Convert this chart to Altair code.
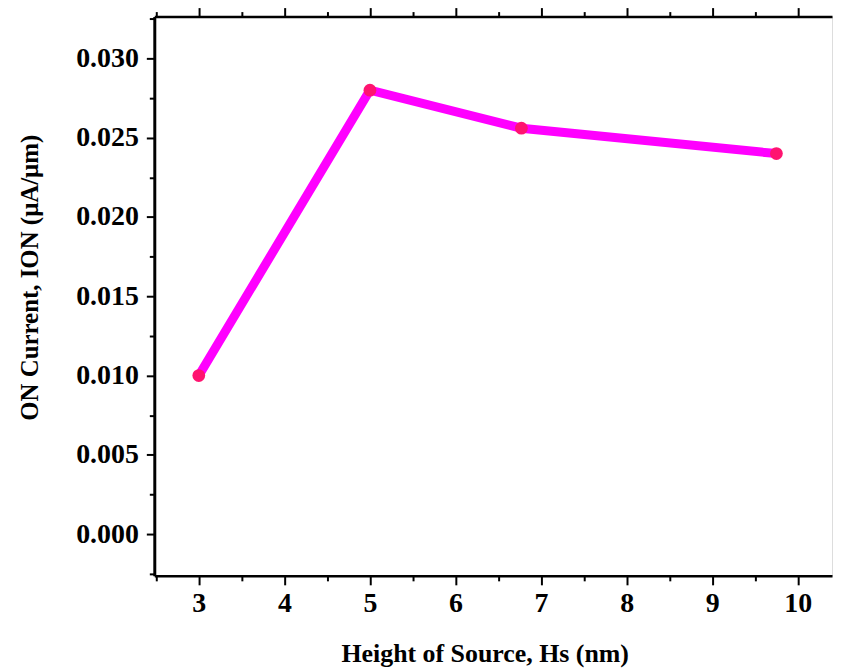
import altair as alt
import pandas as pd

heights = [3.0, 5.0, 6.77, 9.75]
on_current = [0.0100, 0.0280, 0.0256, 0.0240]
x_major = [3, 4, 5, 6, 7, 8, 9, 10]
x_minor = [2.5, 3.5, 4.5, 5.5, 6.5, 7.5, 8.5, 9.5]
y_major = [0.000, 0.005, 0.010, 0.015, 0.020, 0.025, 0.030]
y_minor = [-0.0025, 0.0025, 0.0075, 0.0125, 0.0175, 0.0225, 0.0275, 0.0325]

df = pd.DataFrame({"h": heights, "i": on_current})

FONT = "Liberation Serif"
xs = alt.Scale(domain=[2.48, 10.4], nice=False, zero=False)
ys = alt.Scale(domain=[-0.00263, 0.03264], nice=False, zero=False)

W, H = 681, 562

base = alt.Chart(df)

line = base.mark_line(color="#ff00ff", strokeWidth=9).encode(
    x=alt.X("h:Q", scale=xs, axis=alt.Axis(
        orient="bottom", values=x_major, format="d", grid=False,
        domainColor="black", domainWidth=2.5, tickColor="black", tickWidth=2, tickSize=9,
        labelFont=FONT, labelFontWeight="bold", labelFontSize=28, labelColor="black", labelPadding=5,
        title="Height of Source, Hs (nm)", titleFont=FONT, titleFontWeight="bold", titleFontSize=26,
        titleColor="black", titleX=332, titleY=78, titleBaseline="middle", titleAnchor="start", titleAlign="center")),
    y=alt.Y("i:Q", scale=ys, axis=alt.Axis(
        orient="left", values=y_major, format=".3f", grid=False,
        domainColor="black", domainWidth=3, tickColor="black", tickWidth=2, tickSize=8,
        labelFont=FONT, labelFontWeight="bold", labelFontSize=28, labelColor="black", labelPadding=8,
        title="ON Current, ION (μA/μm)", titleFont=FONT, titleFontWeight="bold", titleFontSize=25,
        titleColor="black", titleX=-125, titleY=262, titleBaseline="middle", titleAlign="center")),
)

minor_bottom = base.mark_point(opacity=0).encode(
    x=alt.X("h:Q", scale=xs, axis=alt.Axis(
        orient="bottom", values=x_minor, labels=False, grid=False, domain=False,
        tickColor="black", tickWidth=2, tickSize=5, title="")),
    y=alt.Y("i:Q", scale=ys, axis=alt.Axis(
        orient="left", values=y_minor, labels=False, grid=False, domain=False,
        tickColor="black", tickWidth=2, tickSize=5, title="")),
)

minor_top = base.mark_point(opacity=0).encode(
    x=alt.X("h:Q", scale=xs, axis=alt.Axis(
        orient="top", values=x_minor, labels=False, grid=False, domain=False,
        tickColor="black", tickWidth=2, tickSize=5, title="")),
    y=alt.Y("i:Q", scale=ys, axis=None),
)

points = base.mark_circle(color="#ff1470", size=165, opacity=1).encode(
    x=alt.X("h:Q", scale=xs, axis=alt.Axis(
        orient="top", values=x_major, labels=False, grid=False,
        domainColor="black", domainWidth=2.5, tickColor="black", tickWidth=2, tickSize=9, title="")),
    y=alt.Y("i:Q", scale=ys, axis=None),
)

chart = alt.layer(line, minor_bottom, minor_top, points).resolve_axis(
    x="independent", y="independent"
).properties(
    width=W, height=H,
    autosize=alt.AutoSizeParams(type="none"),
    padding={"left": 147, "top": 7, "right": 3, "bottom": 96},
).configure_view(stroke="#d0d0d0", strokeWidth=1).configure(background="white")

chart.save("out.html", embed_options={"renderer": "svg", "actions": False})
